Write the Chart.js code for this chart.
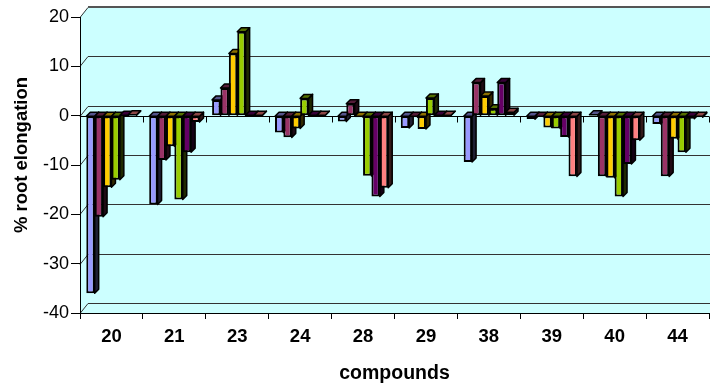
<!DOCTYPE html>
<html>
<head>
<meta charset="utf-8">
<script src="https://cdn.jsdelivr.net/npm/chart.js@4.4.0/dist/chart.umd.min.js"></script>
<style>
  html, body { margin: 0; padding: 0; background: #fff; }
</style>
</head>
<body>
<canvas id="chart" width="710" height="389"></canvas>
<script>
// compounds on the x axis
const compounds = ['20', '21', '23', '24', '28', '29', '38', '39', '40', '44'];

// % root elongation, one array per bar series
const series1 = [-36, -18, 3.2, -3.4, -1.2, -2.5, -9.4, -0.7, 0.2, -1.7];
const series2 = [-20.5, -9, 5.6, -4.4, 2.4, -0.3, 6.7, -0.2, -12.3, -12.3];
const series3 = [-14.5, -6.2, 12.6, -2.6, -0.3, -2.7, 4, -2.4, -12.6, -4.7];
const series4 = [-13, -17, 17, 3.5, -12.2, 3.6, 1.4, -2.6, -16.4, -7.4];
const series5 = [0.1, -7.4, 0.1, 0.1, -16.4, 0.1, 6.7, -4.3, -9.8, -0.6];
const series6 = [0.2, -1.3, 0.1, 0.1, -14.6, 0.1, 0.7, -12.3, -5, -0.3];

const colors = ['#9999FF', '#993366', '#FFCC00', '#99CC00', '#660066', '#FF8080'];

const yTicks = [-40, -30, -20, -10, 0, 10, 20];

const FONT = '"Liberation Sans", Arial, sans-serif';
const DX = 8, DY = 10;   // depth of the walls
const BX = 4, BY = 4;    // depth of the bars

function shade(hex, f) {
    const n = parseInt(hex.slice(1), 16);
    const r = Math.round(((n >> 16) & 255) * f);
    const g = Math.round(((n >> 8) & 255) * f);
    const b = Math.round((n & 255) * f);
    return 'rgb(' + r + ',' + g + ',' + b + ')';
}

function poly(ctx, pts, fill) {
    ctx.beginPath();
    ctx.moveTo(pts[0][0], pts[0][1]);
    for (let i = 1; i < pts.length; i++) ctx.lineTo(pts[i][0], pts[i][1]);
    ctx.closePath();
    ctx.fillStyle = fill;
    ctx.fill();
    ctx.stroke();
}

// back wall, floor and gridlines, drawn before the axes
const wallPlugin = {
    id: 'wall3d',
    beforeDraw(chart) {
        const { ctx, chartArea: a, scales: { y } } = chart;
        ctx.save();
        ctx.fillStyle = '#CCFFFF';
        ctx.beginPath();
        ctx.moveTo(a.left, a.bottom);
        ctx.lineTo(a.left, a.top);
        ctx.lineTo(a.left + DX, a.top - DY);
        ctx.lineTo(chart.width, a.top - DY);
        ctx.lineTo(chart.width, a.bottom);
        ctx.closePath();
        ctx.fill();

        ctx.strokeStyle = '#333';
        ctx.lineWidth = 1;
        yTicks.forEach(v => {
            const py = Math.round(y.getPixelForValue(v)) + 0.5;
            ctx.beginPath();
            ctx.moveTo(a.left, py);
            ctx.lineTo(a.left + DX, py - DY);
            ctx.lineTo(chart.width, py - DY);
            ctx.stroke();
        });
        // top edge of the wall
        ctx.strokeStyle = '#555';
        ctx.lineWidth = 2;
        ctx.beginPath();
        ctx.moveTo(a.left + DX, a.top - DY);
        ctx.lineTo(chart.width, a.top - DY);
        ctx.stroke();

        // category axis crossing at 0
        const y0 = Math.round(y.getPixelForValue(0)) + 0.5;
        ctx.strokeStyle = '#000';
        ctx.lineWidth = 1;
        ctx.beginPath();
        ctx.moveTo(a.left, y0);
        ctx.lineTo(a.right, y0);
        const step = (a.right - a.left) / compounds.length;
        for (let k = 1; k <= compounds.length; k++) {
            const px = Math.round(a.left + k * step) + 0.5;
            ctx.moveTo(px, y0);
            ctx.lineTo(px, y0 + 6);
        }
        ctx.stroke();
        ctx.restore();
    },
    // side and top faces of the bars, fronts are drawn by Chart.js on top
    beforeDatasetsDraw(chart) {
        const ctx = chart.ctx;
        const faces = [];
        chart.data.datasets.forEach((ds, i) => {
            chart.getDatasetMeta(i).data.forEach(bar => {
                const p = bar.getProps(['x', 'y', 'base', 'width'], true);
                faces.push({
                    x1: p.x - p.width / 2, x2: p.x + p.width / 2,
                    top: Math.min(p.y, p.base), bot: Math.max(p.y, p.base),
                    color: ds.backgroundColor
                });
            });
        });
        ctx.save();
        ctx.strokeStyle = '#000';
        ctx.lineWidth = 1.5;
        ctx.lineJoin = 'round';
        faces.forEach(f => {
            poly(ctx, [[f.x2, f.top], [f.x2 + BX, f.top - BY], [f.x2 + BX, f.bot - BY], [f.x2, f.bot]], shade(f.color, 0.2));
        });
        faces.forEach(f => {
            poly(ctx, [[f.x1, f.top], [f.x2, f.top], [f.x2 + BX, f.top - BY], [f.x1 + BX, f.top - BY]], shade(f.color, 0.55));
        });
        ctx.restore();
    },
    afterDraw(chart) {
        const ctx = chart.ctx;
        ctx.save();
        ctx.font = 'bold 18.5px ' + FONT;
        ctx.fillStyle = '#000';
        ctx.textAlign = 'center';
        ctx.textBaseline = 'middle';
        ctx.translate(22, 155);
        ctx.rotate(-Math.PI / 2);
        ctx.fillText('% root elongation', 0, 0);
        ctx.restore();
    }
};

const allSeries = [series1, series2, series3, series4, series5, series6];

new Chart(document.getElementById('chart'), {
    type: 'bar',
    data: {
        labels: compounds,
        datasets: allSeries.map((s, i) => ({
            label: 'Series' + (i + 1),
            data: s,
            backgroundColor: colors[i],
            borderColor: '#000',
            borderWidth: 2,
            borderSkipped: false,
            categoryPercentage: 0.8,
            barPercentage: 1.0
        }))
    },
    options: {
        responsive: false,
        animation: false,
        layout: { padding: { top: 17, right: 1, left: 0, bottom: 0 } },
        plugins: {
            legend: { display: false },
            tooltip: { enabled: false }
        },
        scales: {
            x: {
                afterFit(scale) { scale.height = 76; },
                grid: { drawOnChartArea: false, tickLength: 6, color: '#000' },
                border: { color: '#000' },
                ticks: { color: '#000', padding: 7, font: { family: FONT, size: 18.5, weight: 'bold' } },
                title: {
                    display: true, text: 'compounds', color: '#000',
                    padding: { top: 0, bottom: 4 },
                    font: { family: FONT, size: 19.5, weight: 'bold' }
                }
            },
            y: {
                min: -40, max: 20,
                afterFit(scale) { scale.width = 80; },
                grid: { drawOnChartArea: false, tickLength: 9, color: '#000' },
                border: { color: '#000' },
                ticks: { stepSize: 10, color: '#000', padding: 2, font: { family: FONT, size: 18 } }
            }
        }
    },
    plugins: [wallPlugin]
});
</script>
</body>
</html>
